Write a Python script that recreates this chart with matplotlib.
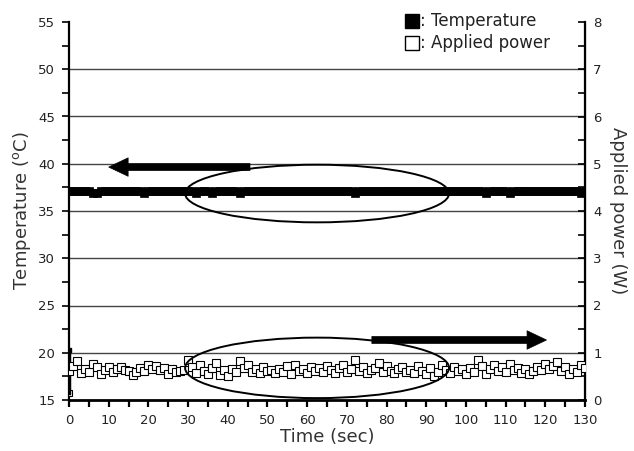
import numpy as np
import matplotlib
matplotlib.use("Agg")
import matplotlib.pyplot as plt
from matplotlib.patches import Ellipse
from matplotlib.ticker import MultipleLocator

# ---------------- data ----------------
time_s = np.arange(0, 131, 1)   # sampling times (s)

temperature_c = [
    37.1, 37.1, 37.1, 37.1, 37.1, 37.1, 36.9, 36.9, 37.1, 37.1,
    37.1, 37.1, 37.1, 37.1, 37.1, 37.1, 37.1, 37.1, 37.1, 36.9,
    37.1, 37.1, 37.1, 37.1, 37.1, 37.1, 37.1, 37.1, 37.1, 37.1,
    37.1, 37.1, 36.9, 37.1, 37.1, 37.1, 36.9, 37.1, 37.1, 37.1,
    37.1, 37.1, 37.1, 36.9, 37.1, 37.1, 37.1, 37.1, 37.1, 37.1,
    37.1, 37.1, 37.1, 37.1, 37.1, 37.1, 37.1, 37.1, 37.1, 37.1,
    37.1, 37.1, 37.1, 37.1, 37.1, 37.1, 37.1, 37.1, 37.1, 37.1,
    37.1, 37.1, 36.9, 37.1, 37.1, 37.1, 37.1, 37.1, 37.1, 37.1,
    37.1, 37.1, 37.1, 37.1, 37.1, 37.1, 37.1, 37.1, 37.1, 37.1,
    37.1, 37.1, 37.1, 37.1, 37.1, 37.1, 37.1, 37.1, 37.1, 37.1,
    37.1, 37.1, 37.1, 37.1, 37.1, 36.9, 37.1, 37.1, 37.1, 37.1,
    37.1, 36.9, 37.1, 37.1, 37.1, 37.1, 37.1, 37.1, 37.1, 37.1,
    37.1, 37.1, 37.1, 37.1, 37.1, 37.1, 37.1, 37.1, 37.1, 36.9,
    37.1,
]

power_w = [
    0.62, 0.72, 0.82, 0.58, 0.66, 0.60, 0.76, 0.70, 0.56, 0.64,
    0.70, 0.60, 0.66, 0.70, 0.64, 0.62, 0.52, 0.60, 0.68, 0.62,
    0.74, 0.66, 0.72, 0.64, 0.68, 0.56, 0.66, 0.60, 0.62, 0.64,
    0.84, 0.70, 0.58, 0.74, 0.62, 0.54, 0.68, 0.78, 0.52, 0.64,
    0.50, 0.66, 0.60, 0.82, 0.68, 0.74, 0.60, 0.66, 0.58, 0.70,
    0.62, 0.64, 0.58, 0.66, 0.60, 0.72, 0.56, 0.74, 0.62, 0.66,
    0.58, 0.70, 0.62, 0.68, 0.60, 0.72, 0.64, 0.58, 0.68, 0.74,
    0.60, 0.66, 0.84, 0.62, 0.70, 0.58, 0.64, 0.68, 0.78, 0.60,
    0.72, 0.62, 0.58, 0.66, 0.70, 0.60, 0.64, 0.58, 0.72, 0.62,
    0.54, 0.68, 0.50, 0.60, 0.74, 0.64, 0.58, 0.70, 0.62, 0.66,
    0.56, 0.68, 0.60, 0.84, 0.72, 0.56, 0.66, 0.74, 0.62, 0.70,
    0.60, 0.76, 0.64, 0.68, 0.58, 0.66, 0.54, 0.62, 0.70, 0.64,
    0.76, 0.66, 0.72, 0.80, 0.62, 0.70, 0.56, 0.66, 0.60, 0.74,
    0.68,
]

# start-up transient of the applied power at t = 0
startup_time = [0, 0, 0]
startup_power = [0.15, 0.55, 1.05]

# annotation geometry (in temperature-axis data units)
ellipse_centers = [(62.5, 36.85), (62.5, 18.4)]
ellipse_sizes = [(66.5, 6.1), (66.5, 6.4)]
arrow_tails = [(45.6, 39.65), (76.3, 21.35)]
arrow_heads = [(10.0, 39.65), (120.3, 21.35)]

# ---------------- figure ----------------
W, H = 634, 451
fig = plt.figure(figsize=(W / 100, H / 100), dpi=100)
L, R, T, B = 69, 585, 22, 400
ax1 = fig.add_axes([L / W, 1 - B / H, (R - L) / W, (B - T) / H])
ax2 = ax1.twinx()

ax1.set_xlim(0, 130)
ax1.set_ylim(15, 55)
ax2.set_ylim(0, 8)

# grid lines (left axis major ticks 20..50)
ax1.set_yticks(range(15, 56, 5))
ax1.yaxis.set_minor_locator(MultipleLocator(2.5))
ax1.grid(axis='y', which='major', color='#444444', lw=1.0)
gl = ax1.get_ygridlines()
gl[0].set_visible(False)
gl[-1].set_visible(False)

# data
ax1.plot(time_s, temperature_c, 's', color='black', ms=5.5, mec='black',
         mew=0.5, zorder=3)
ax2.plot(startup_time, startup_power, color='black', lw=2.5, zorder=3)
ax2.plot(startup_time[-1:], startup_power[-1:], 's', color='black', ms=3)
ax2.plot(startup_time[:1], startup_power[:1], 's', mfc='white', mec='black',
         ms=4, mew=0.8)
ax2.plot(time_s, power_w, 's', mfc='white', mec='black', ms=5.8, mew=0.8,
         zorder=3)

# ellipses and arrows (drawn on top)
for (cx, cy), (ew, eh) in zip(ellipse_centers, ellipse_sizes):
    e = Ellipse((cx, cy), ew, eh, transform=ax1.transData, fill=False,
                ec='black', lw=1.4, zorder=5)
    ax2.add_patch(e)
for tail, head in zip(arrow_tails, arrow_heads):
    ax2.annotate('', xy=head, xytext=tail, xycoords=ax1.transData,
                 textcoords=ax1.transData,
                 arrowprops=dict(arrowstyle='simple,head_length=1.0,head_width=0.95,tail_width=0.36',
                                 mutation_scale=14, fc='black', ec='black',
                                 lw=0.5, shrinkA=0, shrinkB=0),
                 zorder=6)

# spines
for ax in (ax1, ax2):
    ax.spines['top'].set_visible(False)
ax1.spines['left'].set_linewidth(1.6)
ax1.spines['bottom'].set_linewidth(2.0)
ax2.spines['right'].set_linewidth(1.6)
ax2.spines['left'].set_visible(False)
ax2.spines['bottom'].set_visible(False)

# ticks
ax1.set_xticks(range(0, 131, 10))
ax1.xaxis.set_minor_locator(MultipleLocator(5))
ax1.tick_params(axis='x', which='both', direction='out', length=5, width=1.6,
                labelsize=9.5, pad=5, colors='black', labelcolor='#222222')
ax1.tick_params(axis='y', which='both', direction='out', length=5, width=1.2,
                labelsize=9.5, pad=5, labelcolor='#222222')
ax2.set_yticks(range(0, 9))
ax2.yaxis.set_minor_locator(MultipleLocator(0.5))
ax2.tick_params(axis='y', which='both', direction='in', length=5, width=1.2,
                labelsize=9.5, pad=6, labelcolor='#222222')

# axis labels
fig.text(22.5 / W, 1 - 211 / H, 'Temperature ($^{\\rm o}$C)', rotation=90,
         ha='center', va='center', fontsize=13, color='#333333')
fig.text(618 / W, 1 - 211 / H, 'Applied power (W)', rotation=270,
         ha='center', va='center', fontsize=13, color='#333333')
fig.text(327 / W, 1 - 437 / H, 'Time (sec)', ha='center', va='center',
         fontsize=13, color='#333333')

# legend-like key
key_labels = [': Temperature', ': Applied power']
key_fill = ['black', 'white']
key_y = [20.5, 43]
for lab, fc, y in zip(key_labels, key_fill, key_y):
    fig.lines.append(plt.Line2D([412 / W], [1 - y / H], marker='s', ms=10,
                                mfc=fc, mec='black', mew=1.0,
                                transform=fig.transFigure))
    fig.text(420 / W, 1 - y / H, lab, ha='left', va='center', fontsize=12,
             color='#222222')

fig.savefig('out.png', dpi=100)
